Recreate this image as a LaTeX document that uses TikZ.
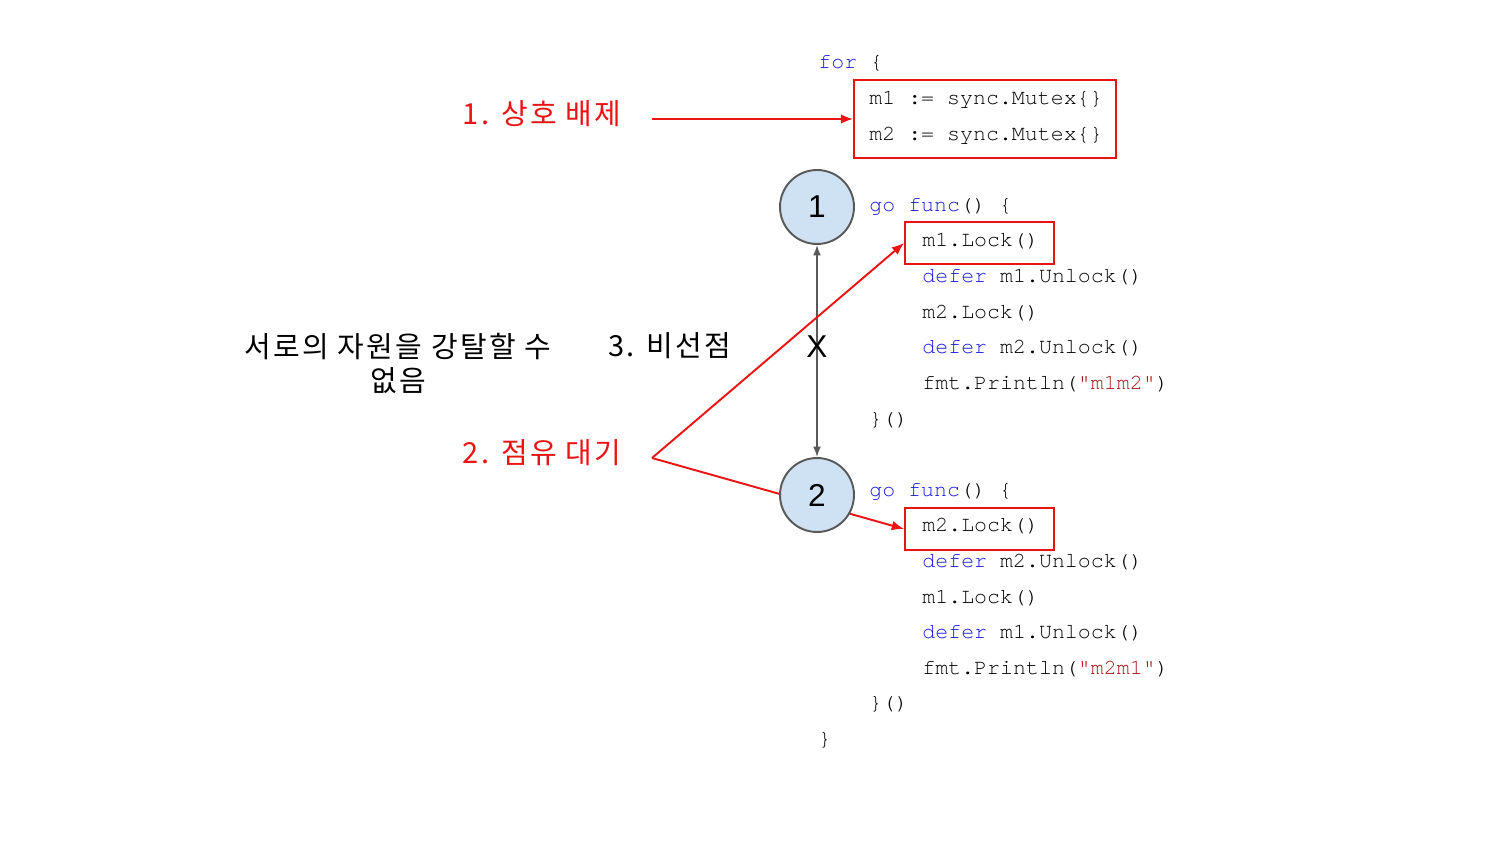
\documentclass[tikz,border=0pt]{standalone}
\usepackage{fontspec}
\setmainfont{Liberation Sans}
\setmonofont{texgyrecursor-regular.otf}
\newfontfamily\krfont[LetterSpace=8]{Noto Sans CJK KR}
\usetikzlibrary{arrows.meta,backgrounds}

\definecolor{kwblue}{RGB}{25,25,230}
\definecolor{strred}{RGB}{163,21,21}
\definecolor{labelred}{RGB}{235,20,20}
\definecolor{nodefill}{RGB}{207,226,243}
\definecolor{nodeline}{RGB}{89,89,89}

\newcommand{\gokw}[1]{\textcolor{kwblue}{#1}}
\newcommand{\gostr}[1]{\textcolor{strred}{#1}}

\tikzset{
    code/.style={anchor=base west,inner sep=0pt,text=black,font=\ttfamily\fontsize{12.3}{14}\selectfont},
    label/.style={font=\krfont\fontsize{16.5}{19.3}\selectfont,align=center},
    redbox/.style={draw=labelred,line width=1.1pt,inner sep=0pt},
    redarrow/.style={draw=labelred,line width=1.1pt,-{Latex[length=7pt,width=5.5pt]}},
    proc/.style={circle,draw=nodeline,line width=1.1pt,fill=nodefill,minimum size=1.48cm,
        inner sep=0pt,font=\fontsize{18}{20}\selectfont},
    grayarrow/.style={draw=nodeline,line width=0.9pt,{Latex[length=6pt,width=4.5pt]}-{Latex[length=6pt,width=4.5pt]}}
}

\begin{document}
\begin{tikzpicture}[x=0.02cm,y=-0.02cm]
        \useasboundingbox (0,0) rectangle (1500,844);
        % code
        \node[code] (forline) at (818,69) {\gokw{for} \{};
        \node[code] (mutexa) at (869,104.6) {m1 := sync.Mutex\{\}};
        \node[code] (mutexb) at (869,140.2) {m2 := sync.Mutex\{\}};
        \node[code] (goa) at (869,211.4) {\gokw{go} \gokw{func}() \{};
        \node[code] (locka) at (922,247) {m1.Lock()};
        \node[code] (unlocka) at (922,282.6) {\gokw{defer} m1.Unlock()};
        \node[code] (lockb) at (922,318.2) {m2.Lock()};
        \node[code] (unlockb) at (922,353.8) {\gokw{defer} m2.Unlock()};
        \node[code] (printa) at (922,389.4) {fmt.Println(\gostr{"m1m2"})};
        \node[code] (enda) at (869,425) {\}()};
        \node[code] (gob) at (869,496.2) {\gokw{go} \gokw{func}() \{};
        \node[code] (lockc) at (922,531.8) {m2.Lock()};
        \node[code] (unlockc) at (922,567.4) {\gokw{defer} m2.Unlock()};
        \node[code] (lockd) at (922,603) {m1.Lock()};
        \node[code] (unlockd) at (922,638.6) {\gokw{defer} m1.Unlock()};
        \node[code] (printb) at (922,674.2) {fmt.Println(\gostr{"m2m1"})};
        \node[code] (endb) at (869,709.8) {\}()};
        \node[code] (endfor) at (818,745.4) {\}};
        % red boxes
        \node[redbox,minimum width=5.24cm,minimum height=1.56cm] (mutexbox) at (985,119) {};
        \node[redbox,minimum width=2.98cm,minimum height=0.84cm] (lockabox) at (979.5,243) {};
        \node[redbox,minimum width=2.98cm,minimum height=0.84cm] (lockcbox) at (979.5,529) {};
        % goroutines
        \node[proc] (g1) at (817,207) {1};
        \node[proc] (g2) at (817,495) {2};
        \draw[grayarrow] (g1) -- (g2);
        \node[font=\fontsize{18}{20}\selectfont] (cross) at (817,347) {X};
        % labels
        \node[label,text=labelred] (mutual) at (542,114) {1. 상호 배제};
        \node[label,text=labelred] (holdwait) at (542,453) {2. 점유 대기};
        \node[label] (nopre) at (670,346) {3. 비선점};
        \node[label] (nopretext) at (398,363) {서로의 자원을 강탈할 수\\없음};
        \coordinate (mutualend) at (652,119);
        \coordinate (holdwaitend) at (652,458);
        \draw[redarrow] (mutualend) -- (mutexbox.west);
        \draw[redarrow] (holdwaitend) -- (lockabox.west);
        \begin{scope}[on background layer]
            \draw[redarrow] (holdwaitend) -- (lockcbox.west);
        \end{scope}
\end{tikzpicture}
\end{document}
